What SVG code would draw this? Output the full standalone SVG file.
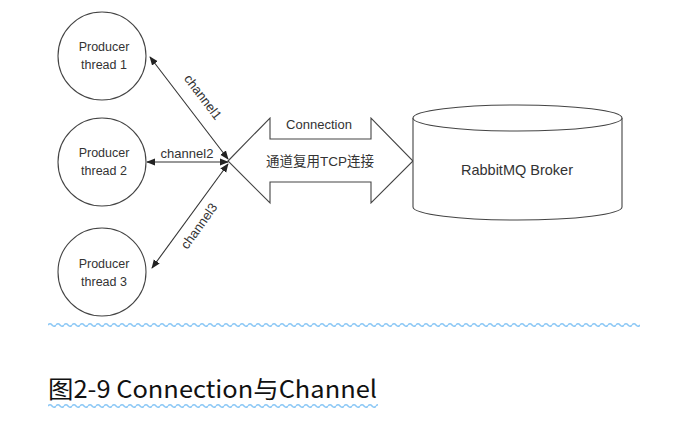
<svg xmlns="http://www.w3.org/2000/svg" width="689" height="421" viewBox="0 0 689 421">
<style>
.node{fill:#fff;stroke:#444;stroke-width:1.1}
.lbl{font-family:"Liberation Sans",Arial,sans-serif;fill:#333;text-anchor:middle}
.cjk{font-family:"Liberation Sans","Noto Sans CJK SC",sans-serif;fill:#333;text-anchor:middle}
.conn{stroke:#333;stroke-width:1.1;fill:none;marker-start:url(#ah);marker-end:url(#ah)}
</style>
<defs>
<marker id="ah" viewBox="0 0 10 10" refX="9" refY="5" markerWidth="9" markerHeight="9" markerUnits="userSpaceOnUse" orient="auto-start-reverse">
<path d="M0,1 L10,5 L0,9 Z" fill="#222"/>
</marker>
<pattern id="wv1" patternUnits="userSpaceOnUse" x="48" y="322" width="8" height="6">
<path d="M0,3 Q2,0.6 4,3 T8,3" fill="none" stroke="#8cc8f5" stroke-width="1.6"/>
</pattern>
<pattern id="wv2" patternUnits="userSpaceOnUse" x="48" y="403" width="8" height="6">
<path d="M0,3 Q2,0.6 4,3 T8,3" fill="none" stroke="#8cc8f5" stroke-width="1.6"/>
</pattern>
</defs>
<rect width="689" height="421" fill="#fff"/>
<g id="connectors">
<line class="conn" x1="150" y1="57" x2="228" y2="159"/>
<text class="lbl" font-size="13" transform="translate(203,97) rotate(52.6)" dominant-baseline="central">channel1</text>
<line class="conn" x1="147" y1="162" x2="228" y2="162"/>
<text class="lbl" font-size="13" x="187" y="158">channel2</text>
<line class="conn" x1="228" y1="164" x2="152" y2="268"/>
<text class="lbl" font-size="13" transform="translate(199,226) rotate(-54.4)" dominant-baseline="central">channel3</text>
</g>
<g id="producer1">
<circle class="node" cx="102" cy="56" r="44"/>
<text class="lbl" font-size="12.5" x="104" y="51">Producer</text>
<text class="lbl" font-size="12.5" x="104" y="69">thread 1</text>
</g>
<g id="producer2">
<circle class="node" cx="102" cy="162" r="44"/>
<text class="lbl" font-size="12.5" x="104" y="157">Producer</text>
<text class="lbl" font-size="12.5" x="104" y="175">thread 2</text>
</g>
<g id="producer3">
<circle class="node" cx="102" cy="272" r="44"/>
<text class="lbl" font-size="12.5" x="104" y="268">Producer</text>
<text class="lbl" font-size="12.5" x="104" y="286">thread 3</text>
</g>
<g id="connection">
<polygon class="node" points="228,161 270,118 270,139 371,139 371,118 413,161 371,203 371,182 270,182 270,203"/>
<text class="lbl" font-size="13" x="319" y="129">Connection</text>
<text class="cjk" font-size="13.5" x="320" y="166">通道复用TCP连接</text>
</g>
<g id="broker">
<path class="node" d="M413,118 V207 A104.5,13 0 0 0 622,207 V118"/>
<ellipse class="node" cx="517.5" cy="118" rx="104.5" ry="13"/>
<text class="lbl" font-size="14.5" x="517" y="175">RabbitMQ Broker</text>
</g>
<rect x="48" y="322" width="592" height="6" fill="url(#wv1)"/>
<text x="48" y="398" font-family="'Noto Sans CJK SC','Noto Sans',sans-serif" font-size="24" fill="#111" textLength="329" lengthAdjust="spacingAndGlyphs">图2-9 Connection与Channel</text>
<rect x="48" y="403" width="330" height="6" fill="url(#wv2)"/>
</svg>
